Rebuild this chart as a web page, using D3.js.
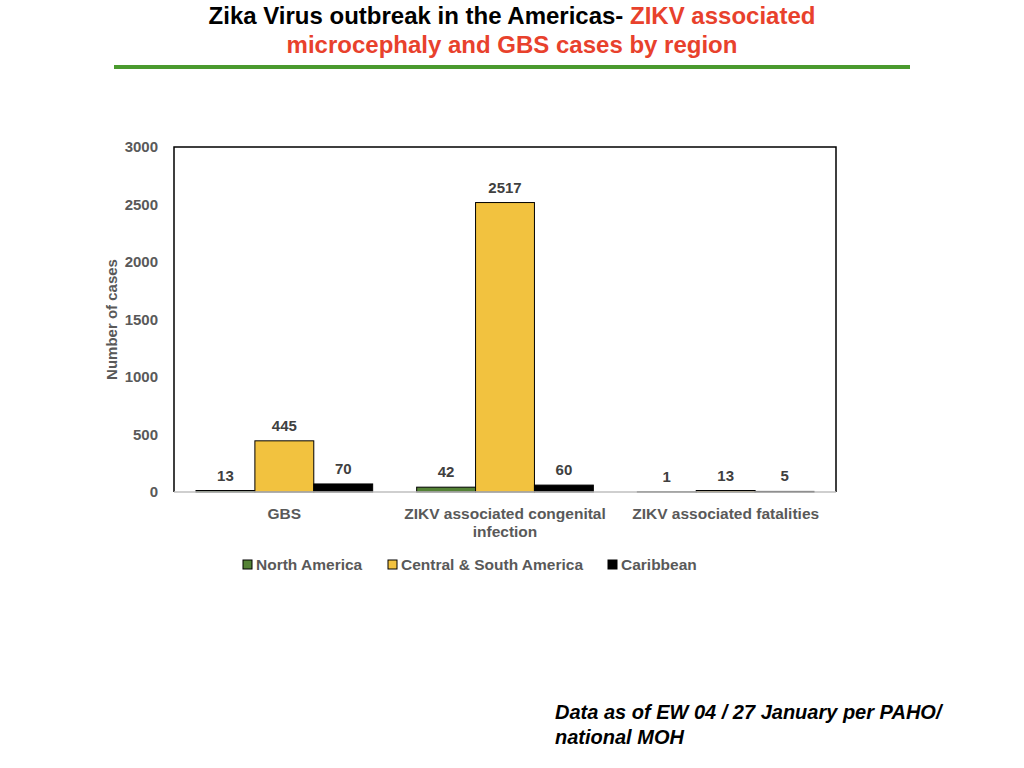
<!DOCTYPE html>
<html>
<head>
<meta charset="utf-8">
<script src="https://cdn.jsdelivr.net/npm/d3@7"></script>
<style>
  body { margin: 0; background: #fff; }
  svg { display: block; font-family: "Liberation Sans", Arial, sans-serif; }
</style>
</head>
<body>
<svg id="chart" width="1024" height="768"></svg>
<script>
// Chart data
const categories = ["GBS", "ZIKV associated congenital infection", "ZIKV associated fatalities"];
const categoryLines = [["GBS"], ["ZIKV associated congenital", "infection"], ["ZIKV associated fatalities"]];
const regions = ["North America", "Central & South America", "Caribbean"];
const northAmerica = [13, 42, 1];
const centralSouthAmerica = [445, 2517, 13];
const caribbean = [70, 60, 5];
const yTicks = [0, 500, 1000, 1500, 2000, 2500, 3000];

const seriesValues = [northAmerica, centralSouthAmerica, caribbean];
const colors = ["#548235", "#F2C23F", "#000000"];

const svg = d3.select("#chart");

// Title
const title = svg.append("text")
    .attr("x", 512)
    .attr("y", 24)
    .attr("text-anchor", "middle")
    .attr("font-size", 24)
    .attr("font-weight", "bold");
title.append("tspan").attr("fill", "#000").text("Zika Virus outbreak in the Americas- ");
title.append("tspan").attr("fill", "#E8412C").text("ZIKV associated");

svg.append("text")
    .attr("x", 512)
    .attr("y", 53)
    .attr("text-anchor", "middle")
    .attr("font-size", 24)
    .attr("font-weight", "bold")
    .attr("fill", "#E8412C")
    .text("microcephaly and GBS cases by region");

svg.append("rect")
    .attr("x", 114)
    .attr("y", 65)
    .attr("width", 796)
    .attr("height", 4)
    .attr("fill", "#4A9A2E");

// Plot area
const margin = { top: 147, left: 174, right: 836, bottom: 492 };
const g = svg.append("g");

const x0 = d3.scaleBand()
    .domain(categories)
    .range([margin.left, margin.right])
    .paddingInner(0)
    .paddingOuter(0);

const x1 = d3.scaleBand()
    .domain(regions)
    .range([22, x0.bandwidth() - 22]);

const y = d3.scaleLinear()
    .domain([0, 3000])
    .range([margin.bottom, margin.top]);

// Frame: left, top, right dark, bottom gray
g.append("path")
    .attr("d", `M${margin.left},${margin.bottom}V${margin.top}H${margin.right}V${margin.bottom}`)
    .attr("fill", "none")
    .attr("stroke", "#000")
    .attr("stroke-width", 1.5);

// Y axis
const yAxis = g.append("g")
    .attr("transform", `translate(${margin.left},0)`)
    .call(d3.axisLeft(y).tickValues(yTicks).tickFormat(d3.format("d")).tickSize(0).tickPadding(16));
yAxis.select(".domain").remove();
yAxis.selectAll("text")
    .attr("font-family", "Liberation Sans, Arial, sans-serif")
    .attr("font-size", 15)
    .attr("font-weight", "bold")
    .attr("fill", "#595959");

svg.append("text")
    .attr("transform", `translate(117,${(margin.top + margin.bottom) / 2}) rotate(-90)`)
    .attr("text-anchor", "middle")
    .attr("font-size", 15)
    .attr("font-weight", "bold")
    .attr("fill", "#595959")
    .text("Number of cases");

// Bars
const groups = g.selectAll(".group")
    .data(categories)
    .join("g")
    .attr("class", "group")
    .attr("transform", d => `translate(${x0(d)},0)`);

groups.selectAll("rect")
    .data((d, i) => regions.map((r, j) => ({ region: r, value: seriesValues[j][i], color: colors[j] })))
    .join("rect")
    .attr("x", d => x1(d.region))
    .attr("y", d => y(d.value))
    .attr("width", x1.bandwidth())
    .attr("height", d => y(0) - y(d.value))
    .attr("fill", d => d.color)
    .attr("stroke", "#000")
    .attr("stroke-width", 1);

groups.selectAll(".label")
    .data((d, i) => regions.map((r, j) => ({ region: r, value: seriesValues[j][i] })))
    .join("text")
    .attr("class", "label")
    .attr("x", d => x1(d.region) + x1.bandwidth() / 2)
    .attr("y", d => y(d.value) - 10)
    .attr("text-anchor", "middle")
    .attr("font-size", 15)
    .attr("font-weight", "bold")
    .attr("fill", "#404040")
    .text(d => d.value);

// X axis line
g.append("line")
    .attr("x1", margin.left)
    .attr("x2", margin.right)
    .attr("y1", margin.bottom)
    .attr("y2", margin.bottom)
    .attr("stroke", "#BFBFBF")
    .attr("stroke-width", 1.5);

// Category labels
categories.forEach((c, i) => {
    const t = svg.append("text")
        .attr("x", x0(c) + x0.bandwidth() / 2)
        .attr("y", 519)
        .attr("text-anchor", "middle")
        .attr("font-size", 15.5)
        .attr("font-weight", "bold")
        .attr("fill", "#595959");
    categoryLines[i].forEach((line, k) => {
        t.append("tspan")
            .attr("x", x0(c) + x0.bandwidth() / 2)
            .attr("dy", k === 0 ? 0 : 18)
            .text(line);
    });
});

// Legend
const legendX = [243, 388, 608];
const legend = svg.append("g");
regions.forEach((r, i) => {
    legend.append("rect")
        .attr("x", legendX[i])
        .attr("y", 560)
        .attr("width", 9)
        .attr("height", 9)
        .attr("fill", colors[i])
        .attr("stroke", "#000")
        .attr("stroke-width", 1);
    legend.append("text")
        .attr("x", legendX[i] + 13)
        .attr("y", 570)
        .attr("font-size", 15.5)
        .attr("font-weight", "bold")
        .attr("fill", "#595959")
        .text(r);
});

// Footnote
const note = svg.append("text")
    .attr("x", 555)
    .attr("y", 719)
    .attr("font-size", 20)
    .attr("font-weight", "bold")
    .attr("font-style", "italic")
    .attr("fill", "#000");
note.append("tspan").attr("x", 555).text("Data as of EW 04 / 27 January per PAHO/");
note.append("tspan").attr("x", 555).attr("dy", 25).text("national MOH");
</script>
</body>
</html>
